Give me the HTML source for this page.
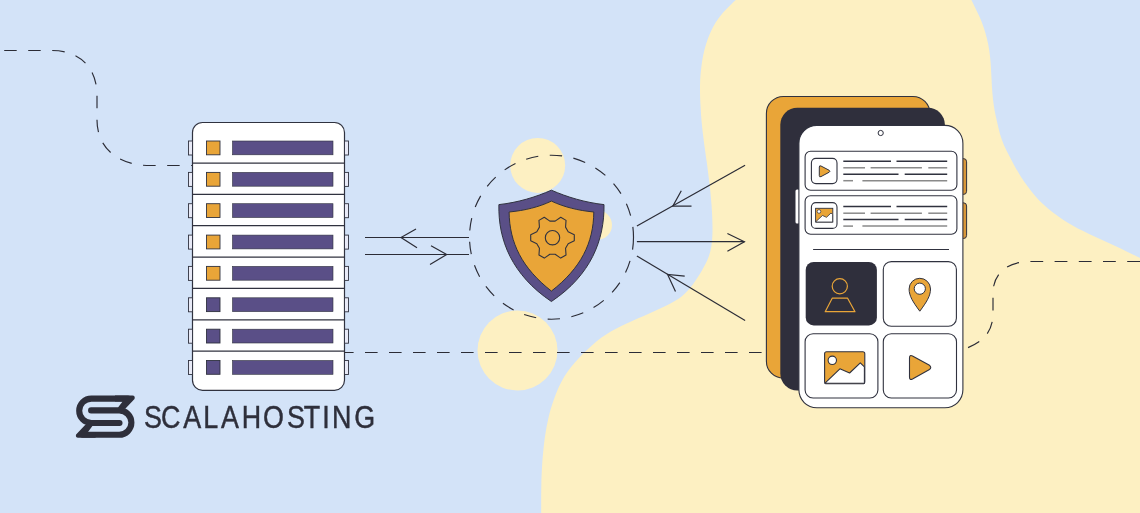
<!DOCTYPE html>
<html><head><meta charset="utf-8">
<style>
html,body{margin:0;padding:0;width:1140px;height:513px;overflow:hidden;background:#d3e3f8;}
svg{display:block;position:absolute;left:0;top:0;will-change:transform;}
.t{position:absolute;left:145px;top:396px;font-family:"Liberation Sans",sans-serif;font-size:30px;color:#2e2f3b;letter-spacing:1px;white-space:nowrap;line-height:40px;}
</style></head><body>
<svg width="1140" height="513" viewBox="0 0 1140 513">
<rect width="1140" height="513" fill="#d3e3f8"/>
<path d="M747.3 -10.4 C746.1 -9.3 742.8 -6.3 740.1 -3.9 C737.4 -1.5 734.1 1.4 731.3 4.2 C728.4 6.9 725.5 9.7 722.9 12.7 C720.3 15.8 717.9 19.0 715.8 22.3 C713.7 25.7 711.8 29.2 710.2 32.9 C708.5 36.5 707.3 40.3 706.1 44.1 C704.9 47.9 703.9 51.8 703.1 55.7 C702.3 59.6 701.7 63.6 701.3 67.5 C700.8 71.5 700.4 75.5 700.2 79.5 C700.0 83.5 700.0 87.5 700.0 91.5 C700.0 95.5 700.2 99.5 700.4 103.5 C700.6 107.5 700.9 111.5 701.1 115.4 C701.4 119.4 701.8 123.4 702.2 127.4 C702.6 131.4 703.1 135.3 703.6 139.3 C704.1 143.3 704.6 147.2 705.2 151.2 C705.7 155.2 706.3 159.1 706.9 163.1 C707.4 167.0 707.9 171.0 708.4 175.0 C708.9 178.9 709.4 182.9 709.9 186.9 C710.3 190.9 710.7 194.8 711.0 198.8 C711.4 202.8 711.7 206.8 711.9 210.8 C712.2 214.8 712.3 218.8 712.4 222.8 C712.5 226.8 712.6 230.8 712.4 234.8 C712.2 238.8 712.0 242.8 711.3 246.7 C710.6 250.6 709.6 254.4 708.2 258.1 C706.8 261.8 704.8 265.4 702.9 268.8 C701.0 272.3 698.8 275.7 696.6 279.0 C694.4 282.3 692.1 285.7 689.5 288.7 C686.9 291.7 684.1 294.5 681.0 296.9 C677.9 299.4 674.4 301.3 670.9 303.2 C667.4 305.2 663.7 306.8 660.1 308.5 C656.5 310.2 652.9 311.9 649.2 313.5 C645.6 315.2 641.9 316.7 638.2 318.3 C634.5 319.9 630.9 321.5 627.2 323.2 C623.6 324.9 620.0 326.7 616.5 328.6 C613.0 330.4 609.5 332.3 606.1 334.5 C602.8 336.6 599.5 339.0 596.4 341.5 C593.3 344.0 590.4 346.7 587.5 349.5 C584.6 352.2 581.7 355.0 579.0 357.9 C576.2 360.8 573.6 363.8 571.1 367.0 C568.7 370.1 566.3 373.3 564.2 376.7 C562.2 380.1 560.4 383.7 558.7 387.3 C557.1 391.0 555.6 394.7 554.2 398.4 C552.8 402.2 551.6 406.0 550.5 409.8 C549.4 413.7 548.5 417.6 547.7 421.5 C546.8 425.4 546.1 429.3 545.5 433.3 C544.8 437.2 544.3 441.2 543.9 445.1 C543.4 449.1 543.1 453.1 542.7 457.1 C542.4 461.1 542.1 465.1 541.9 469.1 C541.7 473.0 541.5 477.0 541.4 481.0 C541.3 485.0 541.3 489.0 541.2 493.0 C541.2 497.0 541.2 501.0 541.2 505.0 C541.2 509.0 541.2 513.1 541.2 517.0 C541.2 521.0 541.2 525.4 541.2 528.9 C541.2 532.4 541.2 536.5 541.2 538.0 L1180 540 L1180 272 L1167.9 271.0 C1166.4 270.3 1162.4 268.4 1159.1 266.9 C1155.8 265.4 1151.9 263.5 1148.3 261.8 C1144.6 260.2 1141.0 258.4 1137.4 256.7 C1133.8 255.0 1130.2 253.2 1126.6 251.5 C1123.0 249.7 1119.5 247.9 1115.8 246.2 C1112.2 244.5 1108.6 242.8 1104.9 241.2 C1101.3 239.5 1097.6 238.0 1094.0 236.3 C1090.3 234.6 1086.8 232.9 1083.2 231.1 C1079.6 229.2 1076.1 227.4 1072.6 225.4 C1069.1 223.5 1065.7 221.4 1062.3 219.2 C1059.0 217.0 1055.8 214.7 1052.6 212.3 C1049.5 209.8 1046.4 207.2 1043.5 204.5 C1040.6 201.8 1037.8 198.9 1035.2 195.9 C1032.5 192.9 1030.0 189.8 1027.7 186.6 C1025.3 183.4 1023.1 180.0 1020.9 176.7 C1018.8 173.3 1016.7 169.9 1014.8 166.4 C1012.8 162.9 1011.0 159.3 1009.2 155.8 C1007.4 152.2 1005.5 148.7 1003.9 145.0 C1002.4 141.3 1001.0 137.6 999.9 133.8 C998.8 129.9 998.0 126.0 997.1 122.1 C996.2 118.2 995.3 114.3 994.6 110.4 C993.9 106.4 993.4 102.5 992.9 98.5 C992.5 94.5 992.2 90.5 991.9 86.6 C991.7 82.6 991.6 78.6 991.3 74.6 C991.1 70.6 990.9 66.6 990.6 62.6 C990.3 58.6 989.9 54.6 989.3 50.7 C988.7 46.7 988.0 42.8 987.0 38.9 C986.1 35.0 985.0 31.2 983.7 27.4 C982.4 23.6 980.9 19.9 979.3 16.3 C977.7 12.6 975.8 9.0 974.1 5.4 C972.4 1.9 970.3 -2.2 969.0 -4.9 C967.7 -7.6 966.6 -9.7 966.1 -10.7 Z" fill="#fdf0c2"/>
<!-- small circles -->
<circle cx="537.7" cy="165.4" r="27.5" fill="#fdf0c2"/>
<circle cx="597" cy="225" r="15" fill="#fdf0c2"/>
<circle cx="517.5" cy="350.5" r="40" fill="#fdf0c2"/>
<!-- dashed paths -->
<g fill="none" stroke="#2b2c36" stroke-width="1.15" stroke-dasharray="12.5 11.5">
<path d="M4.2 50.5 H52 C80 50.5 97 68 97 95 V120 C97 148 118 165.5 150 165.5 H192"/>
<circle cx="551.5" cy="237.2" r="82"/>
<path d="M341 352.5 H766" stroke-dasharray="12.6 11.4"/>
<path d="M1140 261.5 H1030 C1008 261.5 993 273 993 293 V313 C993 333 982 343 963 349.5" stroke-dasharray="12.8 11.4"/>
</g>
<!-- server -->
<rect x="192.5" y="122.5" width="152.0" height="267.8" rx="10" fill="#fff" stroke="#30323f" stroke-width="1.2"/>
<rect x="188.5" y="141.0" width="4" height="14" fill="#e8eaf7" stroke="#30323f" stroke-width="0.9"/>
<rect x="344.5" y="141.0" width="4" height="14" fill="#e8eaf7" stroke="#30323f" stroke-width="0.9"/>
<rect x="206.5" y="141.0" width="13.5" height="13.8" fill="#e9a538" stroke="#30323f" stroke-width="0.9"/>
<rect x="232.5" y="141.0" width="100.5" height="13.8" fill="#5a4f87" stroke="#30323f" stroke-width="0.6"/>
<line x1="192.5" y1="163.0" x2="344.5" y2="163.0" stroke="#30323f" stroke-width="1.25"/>
<rect x="188.5" y="172.4" width="4" height="14" fill="#e8eaf7" stroke="#30323f" stroke-width="0.9"/>
<rect x="344.5" y="172.4" width="4" height="14" fill="#e8eaf7" stroke="#30323f" stroke-width="0.9"/>
<rect x="206.5" y="172.4" width="13.5" height="13.8" fill="#e9a538" stroke="#30323f" stroke-width="0.9"/>
<rect x="232.5" y="172.4" width="100.5" height="13.8" fill="#5a4f87" stroke="#30323f" stroke-width="0.6"/>
<line x1="192.5" y1="194.4" x2="344.5" y2="194.4" stroke="#30323f" stroke-width="1.25"/>
<rect x="188.5" y="203.7" width="4" height="14" fill="#e8eaf7" stroke="#30323f" stroke-width="0.9"/>
<rect x="344.5" y="203.7" width="4" height="14" fill="#e8eaf7" stroke="#30323f" stroke-width="0.9"/>
<rect x="206.5" y="203.7" width="13.5" height="13.8" fill="#e9a538" stroke="#30323f" stroke-width="0.9"/>
<rect x="232.5" y="203.7" width="100.5" height="13.8" fill="#5a4f87" stroke="#30323f" stroke-width="0.6"/>
<line x1="192.5" y1="225.7" x2="344.5" y2="225.7" stroke="#30323f" stroke-width="1.25"/>
<rect x="188.5" y="235.1" width="4" height="14" fill="#e8eaf7" stroke="#30323f" stroke-width="0.9"/>
<rect x="344.5" y="235.1" width="4" height="14" fill="#e8eaf7" stroke="#30323f" stroke-width="0.9"/>
<rect x="206.5" y="235.1" width="13.5" height="13.8" fill="#e9a538" stroke="#30323f" stroke-width="0.9"/>
<rect x="232.5" y="235.1" width="100.5" height="13.8" fill="#5a4f87" stroke="#30323f" stroke-width="0.6"/>
<line x1="192.5" y1="257.1" x2="344.5" y2="257.1" stroke="#30323f" stroke-width="1.25"/>
<rect x="188.5" y="266.4" width="4" height="14" fill="#e8eaf7" stroke="#30323f" stroke-width="0.9"/>
<rect x="344.5" y="266.4" width="4" height="14" fill="#e8eaf7" stroke="#30323f" stroke-width="0.9"/>
<rect x="206.5" y="266.4" width="13.5" height="13.8" fill="#e9a538" stroke="#30323f" stroke-width="0.9"/>
<rect x="232.5" y="266.4" width="100.5" height="13.8" fill="#5a4f87" stroke="#30323f" stroke-width="0.6"/>
<line x1="192.5" y1="288.4" x2="344.5" y2="288.4" stroke="#30323f" stroke-width="1.25"/>
<rect x="188.5" y="297.8" width="4" height="14" fill="#e8eaf7" stroke="#30323f" stroke-width="0.9"/>
<rect x="344.5" y="297.8" width="4" height="14" fill="#e8eaf7" stroke="#30323f" stroke-width="0.9"/>
<rect x="206.5" y="297.8" width="13.5" height="13.8" fill="#5a4f87" stroke="#30323f" stroke-width="0.9"/>
<rect x="232.5" y="297.8" width="100.5" height="13.8" fill="#5a4f87" stroke="#30323f" stroke-width="0.6"/>
<line x1="192.5" y1="319.8" x2="344.5" y2="319.8" stroke="#30323f" stroke-width="1.25"/>
<rect x="188.5" y="329.2" width="4" height="14" fill="#e8eaf7" stroke="#30323f" stroke-width="0.9"/>
<rect x="344.5" y="329.2" width="4" height="14" fill="#e8eaf7" stroke="#30323f" stroke-width="0.9"/>
<rect x="206.5" y="329.2" width="13.5" height="13.8" fill="#5a4f87" stroke="#30323f" stroke-width="0.9"/>
<rect x="232.5" y="329.2" width="100.5" height="13.8" fill="#5a4f87" stroke="#30323f" stroke-width="0.6"/>
<line x1="192.5" y1="351.2" x2="344.5" y2="351.2" stroke="#30323f" stroke-width="1.25"/>
<rect x="188.5" y="360.5" width="4" height="14" fill="#e8eaf7" stroke="#30323f" stroke-width="0.9"/>
<rect x="344.5" y="360.5" width="4" height="14" fill="#e8eaf7" stroke="#30323f" stroke-width="0.9"/>
<rect x="206.5" y="360.5" width="13.5" height="13.8" fill="#5a4f87" stroke="#30323f" stroke-width="0.9"/>
<rect x="232.5" y="360.5" width="100.5" height="13.8" fill="#5a4f87" stroke="#30323f" stroke-width="0.6"/>
<!-- arrows left -->
<g stroke="#2b2c36" stroke-width="1.2" fill="none">
<path d="M365 237.5 H469"/>
<path d="M416 229.1 L401 237.5 L417 247.7"/>
<path d="M365 254.5 H469"/>
<path d="M431 245.7 L446.7 254.5 L430 264.5"/>
<path d="M636.9 226 L745.1 165.2"/>
<path d="M681.3 190.8 L672.8 206.2 L691.5 206.2"/>
<path d="M636.9 241.7 H744.4"/>
<path d="M727.4 233.5 L744.4 241.7 L727.4 251.2"/>
<path d="M636.9 256 L745.1 320.5"/>
<path d="M684.7 276.1 L667.6 274.4 L675.5 291.5"/>
</g>
<!-- shield -->
<path d="M551.4 190.2 C536 197 518 202.5 498.9 204.6 C498 240 512 275 551.4 301.5 C591 275 604.5 240 604 204.6 C585 202.5 567 197 551.4 190.2 Z" fill="#5a4f87" stroke="#30323f" stroke-width="1"/>
<path d="M551.4 201.1 C539 207 525 210.5 509.1 212 C509.5 243 522 268 551.4 291.1 C581 268 593.5 243 593.8 212 C578 210.5 564 207 551.4 201.1 Z" fill="#e9a538" stroke="#30323f" stroke-width="1"/>
<path d="M568.18 231.68 L574.29 234.64 L574.29 240.76 L568.18 243.72 L565.56 248.27 L566.04 255.04 L560.74 258.10 L555.13 254.29 L549.87 254.29 L544.26 258.10 L538.96 255.04 L539.44 248.27 L536.82 243.72 L530.71 240.76 L530.71 234.64 L536.82 231.68 L539.44 227.13 L538.96 220.36 L544.26 217.30 L549.87 221.11 L555.13 221.11 L560.74 217.30 L566.04 220.36 L565.56 227.13 Z" fill="none" stroke="#30323f" stroke-width="1.1" stroke-linejoin="round"/>
<circle cx="552.5" cy="237.7" r="7.2" fill="none" stroke="#30323f" stroke-width="1.1"/>
<!-- phone -->
<rect x="766.4" y="96.5" width="163.5" height="281.7" rx="17" fill="#e9a538" stroke="#30323f" stroke-width="1.1"/>
<rect x="780.3" y="107.7" width="164.6" height="282.8" rx="17" fill="#2f2f3c"/>
<path d="M962 158.6 H963.5 Q966.6 158.6 966.6 161.8 V191.3 Q966.6 194.4 963.5 194.4 H962 Z" fill="#d9983a" stroke="#30323f" stroke-width="1"/>
<path d="M962 202.8 H963.5 Q966.6 202.8 966.6 206 V235.4 Q966.6 238.5 963.5 238.5 H962 Z" fill="#d9983a" stroke="#30323f" stroke-width="1"/>
<rect x="795.5" y="189.6" width="4" height="34" rx="1.5" fill="#fff"/>
<rect x="798.9" y="125.4" width="164" height="282.4" rx="18" fill="#fff" stroke="#30323f" stroke-width="1.1"/>
<circle cx="880.7" cy="133" r="2.6" fill="#fff" stroke="#30323f" stroke-width="1"/>
<rect x="805.1" y="151.3" width="151.8" height="38.9" rx="5.5" fill="#fff" stroke="#30323f" stroke-width="1.1"/>
<rect x="805.1" y="195.8" width="151.8" height="38.5" rx="5.5" fill="#fff" stroke="#30323f" stroke-width="1.1"/>
<rect x="811.4" y="158.4" width="25.6" height="25.2" rx="4.5" fill="#fff" stroke="#30323f" stroke-width="1.1"/>
<rect x="811.4" y="202.6" width="25.6" height="25.8" rx="4.5" fill="#fff" stroke="#30323f" stroke-width="1.1"/>
<path d="M819.3 167 Q819.3 165.2 821 166 L829.2 170.3 Q830.6 171.3 829.2 172.2 L821 176.6 Q819.3 177.4 819.3 175.6 Z" fill="#e9a538" stroke="#30323f" stroke-width="1" stroke-linejoin="round"/>
<rect x="815.6" y="208.3" width="17.2" height="13.8" fill="#e9a538" stroke="#30323f" stroke-width="0.9"/>
<path d="M816 221.5 L822.5 215.5 L826.5 217.3 L831 213 L832.6 214.5 V222 H816 Z" fill="#fff" stroke="#30323f" stroke-width="0.8"/>
<circle cx="819" cy="211.5" r="1.8" fill="#fff" stroke="#30323f" stroke-width="0.7"/>
<line x1="843.3" y1="161.2" x2="891" y2="161.2" stroke="#30323f" stroke-width="1.5"/>
<line x1="896.5" y1="161.2" x2="947.2" y2="161.2" stroke="#30323f" stroke-width="1.5"/>
<line x1="843.3" y1="167.8" x2="865" y2="167.8" stroke="#8a8a8a" stroke-width="1.5"/>
<line x1="870.6" y1="167.8" x2="921.9" y2="167.8" stroke="#8a8a8a" stroke-width="1.5"/>
<line x1="928.3" y1="167.8" x2="947.2" y2="167.8" stroke="#8a8a8a" stroke-width="1.5"/>
<line x1="843.3" y1="174.2" x2="898.5" y2="174.2" stroke="#30323f" stroke-width="1.5"/>
<line x1="904.7" y1="174.2" x2="947.2" y2="174.2" stroke="#30323f" stroke-width="1.5"/>
<line x1="843.3" y1="180.7" x2="853" y2="180.7" stroke="#8a8a8a" stroke-width="1.5"/>
<line x1="862.4" y1="180.7" x2="947.2" y2="180.7" stroke="#8a8a8a" stroke-width="1.5"/>
<line x1="843.3" y1="206.6" x2="891" y2="206.6" stroke="#30323f" stroke-width="1.5"/>
<line x1="896.5" y1="206.6" x2="947.2" y2="206.6" stroke="#30323f" stroke-width="1.5"/>
<line x1="843.3" y1="213.2" x2="865" y2="213.2" stroke="#8a8a8a" stroke-width="1.5"/>
<line x1="870.6" y1="213.2" x2="921.9" y2="213.2" stroke="#8a8a8a" stroke-width="1.5"/>
<line x1="928.3" y1="213.2" x2="947.2" y2="213.2" stroke="#8a8a8a" stroke-width="1.5"/>
<line x1="843.3" y1="219.6" x2="898.5" y2="219.6" stroke="#30323f" stroke-width="1.5"/>
<line x1="904.7" y1="219.6" x2="947.2" y2="219.6" stroke="#30323f" stroke-width="1.5"/>
<line x1="843.3" y1="226.1" x2="853" y2="226.1" stroke="#8a8a8a" stroke-width="1.5"/>
<line x1="862.4" y1="226.1" x2="947.2" y2="226.1" stroke="#8a8a8a" stroke-width="1.5"/>
<line x1="813.1" y1="249.5" x2="949" y2="249.5" stroke="#30323f" stroke-width="1.2"/>
<rect x="805.7" y="262" width="71.2" height="63.4" rx="8" fill="#2f2f3c"/>
<rect x="883.3" y="261.6" width="73.1" height="64.6" rx="8" fill="#fff" stroke="#30323f" stroke-width="1.1"/>
<rect x="805.1" y="333.7" width="72.8" height="64.3" rx="8" fill="#fff" stroke="#30323f" stroke-width="1.1"/>
<rect x="883.3" y="333.7" width="73.2" height="64.3" rx="8" fill="#fff" stroke="#30323f" stroke-width="1.1"/>
<circle cx="839.8" cy="286.2" r="7.6" fill="none" stroke="#e9a538" stroke-width="1.2"/>
<path d="M832.2 298.2 H847.6 L855 311.7 H825.2 Z" fill="none" stroke="#e9a538" stroke-width="1.2" stroke-linejoin="round"/>
<path d="M919.8 311.2 C913 302 909.1 296 909.1 289 A10.7 10.7 0 0 1 930.5 289 C930.5 296 926.6 302 919.8 311.2 Z" fill="#e9a538" stroke="#30323f" stroke-width="1"/>
<circle cx="919.8" cy="288.7" r="5.6" fill="#fff" stroke="#30323f" stroke-width="1"/>
<rect x="824.6" y="351.8" width="40.2" height="32" rx="2" fill="#e9a538" stroke="#30323f" stroke-width="1.1"/>
<path d="M825 383.2 L839.9 368.8 L849.6 373 L860.3 362.9 L864.4 366.8 V383.2 Z" fill="#fff" stroke="#30323f" stroke-width="1.1" stroke-linejoin="round"/>
<circle cx="832.3" cy="360.3" r="4.2" fill="#fff" stroke="#30323f" stroke-width="1.1"/>
<path d="M909.5 358 Q909.5 354.5 912.5 356 L929.5 365.3 Q932 367.5 929.5 369.5 L912.5 379 Q909.5 380.5 909.5 377 Z" fill="#e9a538" stroke="#30323f" stroke-width="1.1" stroke-linejoin="round"/>
<!-- logo -->
<g id="half" fill="#2e2f3b">
<path d="M119.5 423 H91.4 A12.2 12.2 0 0 1 91.4 398.6 H128" fill="none" stroke="#2e2f3b" stroke-width="6.1" stroke-linecap="round"/>
<path d="M115 395.6 H132.5 Q135.5 396 134.5 399 L125.5 408.5 L118 409 L118.2 407.3 L122.6 401.5 H115 Z"/>
</g>
<use href="#half" transform="rotate(180 105.3 416.7)"/>
<text transform="scale(0.84,1)" x="171.57 191.57 218.10 242.00 263.10 287.71 313.24 341.81 361.74 383.55 395.10 421.81" y="428" font-family="Liberation Sans" font-size="32" fill="#2e2f3b" stroke="#2e2f3b" stroke-width="0.45">SCALAHOSTING</text>
</svg>

</body></html>
